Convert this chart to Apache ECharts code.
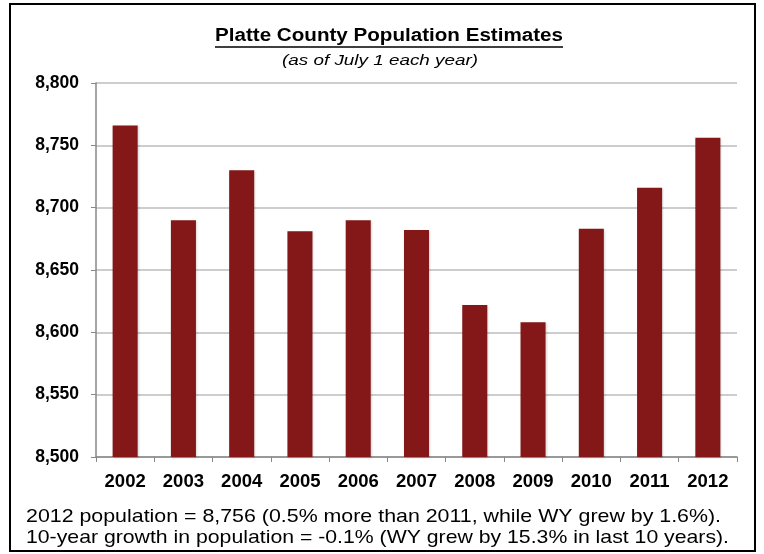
<!DOCTYPE html>
<html><head><meta charset="utf-8">
<script src="https://cdn.jsdelivr.net/npm/echarts@6/dist/echarts.min.js"></script>
<style>html,body{margin:0;padding:0;background:#fff}#c{width:764px;height:554px}</style>
</head><body><div id="c"></div>
<script>
var years = ['2002','2003','2004','2005','2006','2007','2008','2009','2010','2011','2012'];
var population = [8766, 8690, 8730, 8681, 8690, 8682, 8622, 8608, 8683, 8716, 8756];
var titleText = 'Platte County Population Estimates';
var subtitleText = '(as of July 1 each year)';
var note1 = '2012 population = 8,756 (0.5% more than 2011, while WY grew by 1.6%).';
var note2 = '10-year growth in population = -0.1% (WY grew by 15.3% in last 10 years).';

var font = '"Liberation Sans", Arial, sans-serif';
var ctx = document.createElement('canvas').getContext('2d');
// stretched text: left edge, right edge, baseline, css font, size
function stretched(text, left, right, baseline, style, size) {
  var f = style + ' ' + size + 'px ' + font;
  ctx.font = f;
  var w = ctx.measureText(text).width;
  return {type:'text', x:left, y:baseline - size * 0.88, scaleX:(right - left) / w, originX:0, originY:0,
    style:{text:text, font:f, fill:'#000', verticalAlign:'top'}, silent:true};
}

var chart = echarts.init(document.getElementById('c'), null, {renderer:'canvas'});
chart.setOption({
  animation:false,
  backgroundColor:'#fff',
  graphic:[
    {type:'rect', shape:{x:10,y:4,width:745,height:547}, style:{fill:'none', stroke:'#000', lineWidth:2}, silent:true},
    stretched(titleText, 215, 563, 42.5, 'bold', 17.5),
    {type:'line', shape:{x1:215, y1:47, x2:563, y2:47}, style:{stroke:'#000', lineWidth:1.6}, silent:true},
    stretched(subtitleText, 282, 478, 66.5, 'italic', 15.5),
    stretched(note1, 26, 721, 523.5, 'normal', 18.5),
    stretched(note2, 26, 729, 545, 'normal', 18.5)
  ],
  grid:{left:96, right:27, top:83, bottom:97, containLabel:false},
  xAxis:{type:'category', data:years, boundaryGap:true,
    axisLine:{lineStyle:{color:'#888', width:1.5}},
    axisTick:{show:true, alignWithLabel:false, length:5, lineStyle:{color:'#888'}},
    axisLabel:{color:'#000', fontWeight:'bold', fontSize:18.5, fontFamily:font, margin:15}
  },
  yAxis:{type:'value', min:8500, max:8800, interval:50,
    axisLine:{show:true, lineStyle:{color:'#888', width:1.5}},
    axisTick:{show:true, length:5, lineStyle:{color:'#888'}},
    splitLine:{lineStyle:{color:'#bdbdbd', width:1.5}},
    axisLabel:{color:'#000', fontWeight:'bold', fontSize:17.5, fontFamily:font, margin:17,
      formatter:function(v){return v.toLocaleString('en-US');}}
  },
  series:[{type:'bar', data:population, barWidth:'43%',
    itemStyle:{color:'#841818', shadowColor:'rgba(0,0,0,0.15)', shadowBlur:2, shadowOffsetX:1, shadowOffsetY:1}}]
});
</script></body></html>
